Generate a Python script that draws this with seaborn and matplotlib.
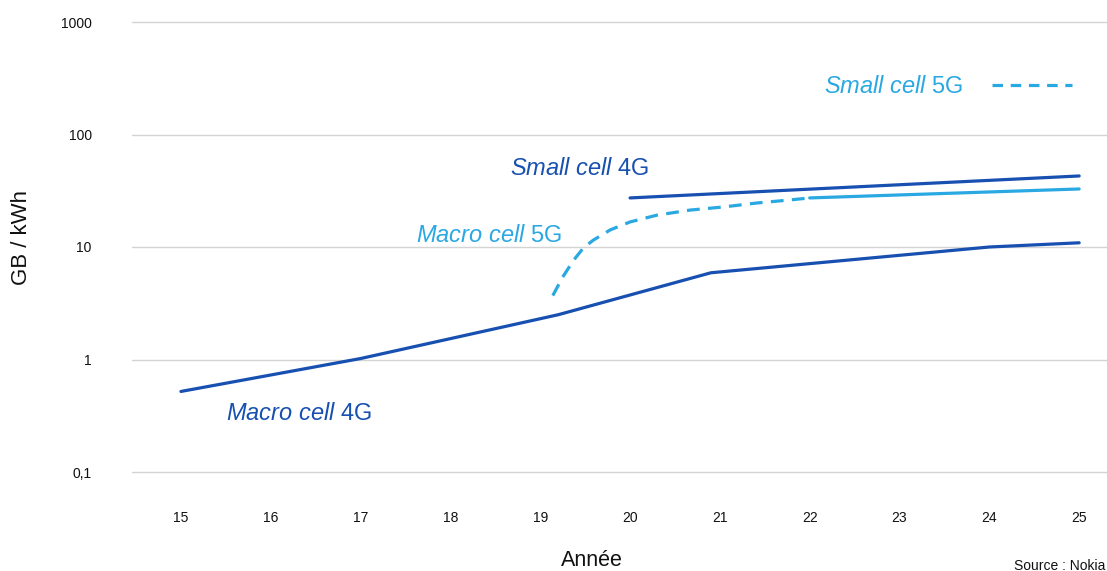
import matplotlib
matplotlib.use("Agg")
import matplotlib.pyplot as plt
from matplotlib.lines import Line2D
import seaborn as sns
import pandas as pd

# valeurs (GB / kWh, echelle log)
annees_macro4g = [15, 17, 19.2, 20.9, 24, 25]
macro4g = [0.52, 1.02, 2.5, 5.9, 10.0, 10.9]

annees_small4g = [20, 25]
small4g = [27.3, 42.8]

# Macro cell 5G : partie projetee (pointilles) puis partie pleine
annees_macro5g_proj = [19.14, 19.25, 19.37, 19.48, 19.59, 19.78, 20.0, 20.3, 20.67, 21.04, 21.41, 21.78, 22.0]
macro5g_proj = [3.7, 5.4, 7.6, 9.8, 11.5, 14.2, 16.7, 19.2, 21.3, 22.7, 24.6, 26.2, 27.3]
annees_macro5g = [22, 25]
macro5g = [27.3, 32.8]

xticks = list(range(15, 26))
yticks = [0.1, 1, 10, 100, 1000]
ylabels = ["0,1", "1", "10", "100", "1000"]

bleu_fonce = "#1750b0"
bleu_clair = "#2aa8e2"
tirets = (0, (4, 2.6))

sns.set_style("white")
plt.rcParams["font.family"] = ["Liberation Sans", "DejaVu Sans"]
plt.rcParams["mathtext.fontset"] = "custom"
plt.rcParams["mathtext.rm"] = "Liberation Sans"
plt.rcParams["mathtext.it"] = "Liberation Sans:italic"

fig = plt.figure(figsize=(11.07, 5.71), dpi=100)
ax = fig.add_axes([132 / 1107, 1 - 472 / 571, 975 / 1107, 450 / 571])

df_m4 = pd.DataFrame({"annee": annees_macro4g, "val": macro4g})
df_s4 = pd.DataFrame({"annee": annees_small4g, "val": small4g})
df_m5p = pd.DataFrame({"annee": annees_macro5g_proj, "val": macro5g_proj})
df_m5 = pd.DataFrame({"annee": annees_macro5g, "val": macro5g})

sns.lineplot(data=df_m4, x="annee", y="val", color=bleu_fonce, lw=2.3, ax=ax)
sns.lineplot(data=df_s4, x="annee", y="val", color=bleu_fonce, lw=2.3, ax=ax)
sns.lineplot(data=df_m5p, x="annee", y="val", color=bleu_clair, lw=2.3,
             linestyle=tirets, sort=False, ax=ax)
sns.lineplot(data=df_m5, x="annee", y="val", color=bleu_clair, lw=2.3, ax=ax)

ax.set_yscale("log")
ax.set_ylim(0.1, 1000)
ax.set_xlim(14.455, 25.31)
ax.set_yticks(yticks)
ax.set_yticklabels(ylabels)
ax.minorticks_off()
ax.set_xticks(xticks)
ax.set_xticklabels([str(a) for a in xticks])
ax.tick_params(axis="x", length=0, pad=28, labelsize=10, labelcolor="#111111")
ax.tick_params(axis="y", length=0, pad=29, labelsize=10, labelcolor="#111111")
ax.yaxis.grid(True, color="#d3d3d3", lw=1)
ax.xaxis.grid(False)
for g in ax.get_ygridlines():
    g.set_clip_on(False)
for s in ax.spines.values():
    s.set_visible(False)
ax.set_xlabel("")
ax.set_ylabel("")

# etiquettes des courbes
ax.text(18.66, 49, r"$\mathit{Small\ cell}$ 4G", color=bleu_fonce, fontsize=17, va="center")
ax.text(17.62, 12.5, r"$\mathit{Macro\ cell}$ 5G", color=bleu_clair, fontsize=17, va="center")
ax.text(15.5, 0.33, r"$\mathit{Macro\ cell}$ 4G", color=bleu_fonce, fontsize=17, va="center")

# cle pour Small cell 5G
cle = Line2D([], [], color=bleu_clair, lw=2.3, linestyle=(0, (3.3, 2.4)))
ax.legend([cle], [r"$\mathit{Small\ cell}$ 5G"], loc="center right",
          bbox_to_anchor=(0.964, 0.856), frameon=False, fontsize=17,
          handlelength=3.4, handletextpad=1.2, markerfirst=False,
          borderpad=0, borderaxespad=0, labelcolor=bleu_clair)

fig.text(22 / 1107, 1 - 237 / 571, "GB / kWh", rotation=90, fontsize=16,
         ha="center", va="center", color="#111111")
fig.text(592 / 1107, 1 - 561 / 571, "Année", fontsize=15.5, ha="center",
         va="center", color="#111111")
fig.text(1105 / 1107, 1 - 566 / 571, "Source : Nokia", fontsize=10,
         ha="right", va="center", color="#111111")

fig.savefig("out.png", dpi=100)
